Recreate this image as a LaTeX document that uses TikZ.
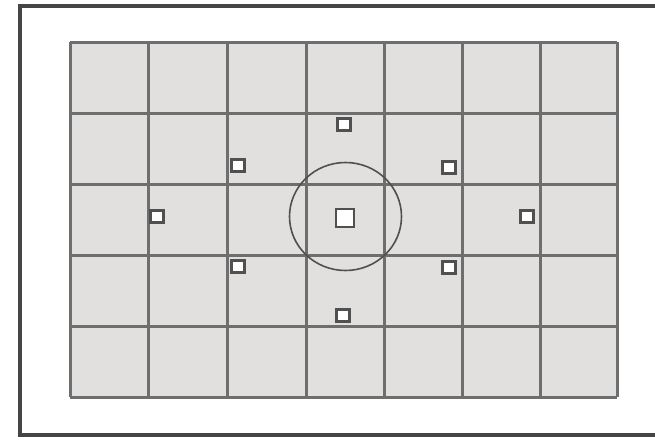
\documentclass[tikz,border=0pt]{standalone}
\definecolor{gridfill}{HTML}{E2DFDF}
\definecolor{gridline}{HTML}{6E6E6E}
\definecolor{framecol}{HTML}{454545}
\definecolor{ptcol}{HTML}{505050}
\tikzset{
  afpoint/.style={draw=ptcol, line width=3pt, fill=white, minimum width=13pt, minimum height=12pt, inner sep=0pt, outer sep=0pt},
  afcenter/.style={afpoint, line width=2.8pt, minimum width=18pt, minimum height=18pt},
  gridlines/.style={draw=gridline, line width=3pt},
  framelines/.style={draw=framecol, line width=3.4pt},
}
\begin{document}
\begin{tikzpicture}[x=1pt,y=-1pt]
\useasboundingbox (0,0) rectangle (655,439);
\clip (0,0) rectangle (655,439);
% outer frame (open on the right)
\draw[framelines] (670,6) -- (20,6) -- (20,435) -- (670,435);
% grid
\fill[gridfill] (70,42) rectangle (617,397);
\foreach \x in {70,148,227,306,384,462,540,617}
  \draw[gridlines] (\x,42) -- (\x,397);
\foreach \y in {42,113,184,255,326,397}
  \draw[gridlines] (70,\y) -- (617,\y);
% centre circle
\draw[draw=ptcol, line width=1.6pt] (345.5,216.5) ellipse [x radius=56, y radius=54];
% AF points
\node[afcenter] (c) at (345,218) {};
\node[afpoint] (t) at (343.5,124.5) {};
\node[afpoint] (tl) at (237.5,165.5) {};
\node[afpoint] (tr) at (449,167) {};
\node[afpoint] (l) at (157,216.5) {};
\node[afpoint] (r) at (527,216.5) {};
\node[afpoint] (bl) at (237.5,266) {};
\node[afpoint] (br) at (449,267.5) {};
\node[afpoint] (b) at (343,315.5) {};
\end{tikzpicture}
\end{document}
